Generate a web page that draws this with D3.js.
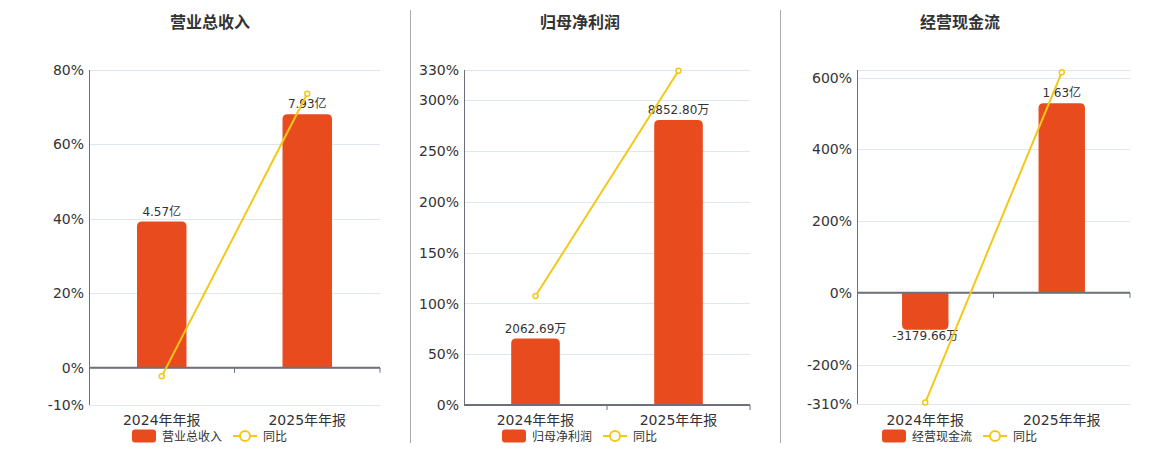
<!DOCTYPE html>
<html>
<head>
<meta charset="utf-8">
<script src="https://cdn.jsdelivr.net/npm/d3@7"></script>
<style>
  body { margin: 0; background: #fff; }
  text { font-family: "DejaVu Sans", "Noto Sans CJK SC", sans-serif; }
</style>
</head>
<body>
<script>
// data
var categories = ["2024年年报", "2025年年报"];

var revenue = [4.57, 7.93];               // 亿
var revenueLabels = ["4.57亿", "7.93亿"];
var revenueYoy = [-2.3, 73.6];            // %
var revenueTicks = [-10, 0, 20, 40, 60, 80];

var profit = [2062.69, 8852.80];          // 万
var profitLabels = ["2062.69万", "8852.80万"];
var profitYoy = [107.3, 329.2];
var profitTicks = [0, 50, 100, 150, 200, 250, 300, 330];

var cash = [-3179.66, 16300];             // 万
var cashLabels = ["-3179.66万", "1.63亿"];
var cashYoy = [-306, 615];
var cashTicks = [-310, -200, 0, 200, 400, 600];

var barColor = "#e84c1e";
var lineColor = "#f2c918";
var gridColor = "#e0e6f1";
var axisColor = "#6e7079";

var svg = d3.select("body").append("svg")
    .attr("width", 1160)
    .attr("height", 450);

//dividers between the three panels
[410.5, 780.5].forEach(function(x) {
    svg.append("line")
        .attr("x1", x).attr("x2", x).attr("y1", 10).attr("y2", 443)
        .attr("stroke", "#aaa").attr("stroke-width", 1);
});

function drawPanel(cfg) {
    var g = svg.append("g");

    var x = d3.scaleBand().domain(categories).range([cfg.x0, cfg.x1]);
    var y = d3.scaleLinear().domain(cfg.domain).range([cfg.y1, cfg.y0]);
    // hidden bar axis, shares zero with the percent axis
    var yb = d3.scaleLinear().domain([0, cfg.barTop]).range([y(0), cfg.y0]);

    //title
    g.append("text")
        .attr("x", cfg.cx).attr("y", 28)
        .attr("text-anchor", "middle")
        .attr("font-size", 16).attr("font-weight", "bold")
        .attr("fill", "#333")
        .text(cfg.title);

    //grid lines
    var gridVals = cfg.ticks.concat([cfg.domain[1]]);
    g.selectAll(".grid").data(gridVals).enter().append("line")
        .attr("x1", cfg.x0).attr("x2", cfg.x1)
        .attr("y1", function(d) { return Math.round(y(d)) + 0.5; })
        .attr("y2", function(d) { return Math.round(y(d)) + 0.5; })
        .attr("stroke", gridColor);

    //y tick labels
    g.selectAll(".tick").data(cfg.ticks).enter().append("text")
        .attr("x", cfg.x0 - 5)
        .attr("y", function(d) { return y(d); })
        .attr("dy", "0.36em")
        .attr("text-anchor", "end")
        .attr("font-size", 14)
        .attr("fill", "#333")
        .text(function(d) { return d + "%"; });

    //y axis line
    g.append("line")
        .attr("x1", cfg.x0 + 0.5).attr("x2", cfg.x0 + 0.5)
        .attr("y1", cfg.y0).attr("y2", cfg.y1)
        .attr("stroke", axisColor);

    //bars with rounded outer corners
    var bw = x.bandwidth() * 0.34;
    var r = 5;
    g.selectAll(".bar").data(cfg.bars).enter().append("path")
        .attr("fill", barColor)
        .attr("d", function(d, i) {
            var cx = x(categories[i]) + x.bandwidth() / 2;
            var l = cx - bw / 2, rr = cx + bw / 2;
            var y0 = yb(0), y1 = yb(d);
            var s = y1 < y0 ? 1 : -1;
            var p = d3.path();
            p.moveTo(l, y0);
            p.lineTo(l, y1 + s * r);
            p.quadraticCurveTo(l, y1, l + r, y1);
            p.lineTo(rr - r, y1);
            p.quadraticCurveTo(rr, y1, rr, y1 + s * r);
            p.lineTo(rr, y0);
            p.closePath();
            return p.toString();
        });

    //bar labels
    g.selectAll(".blabel").data(cfg.bars).enter().append("text")
        .attr("x", function(d, i) { return x(categories[i]) + x.bandwidth() / 2; })
        .attr("y", function(d) { return d >= 0 ? yb(d) - 6 : yb(d) + 10; })
        .attr("text-anchor", "middle")
        .attr("font-size", 12)
        .attr("fill", "#333")
        .text(function(d, i) { return cfg.labels[i]; });

    //zero line and x ticks
    g.append("line")
        .attr("x1", cfg.x0).attr("x2", cfg.x1)
        .attr("y1", y(0)).attr("y2", y(0))
        .attr("stroke", axisColor).attr("stroke-width", 2);
    var bounds = [cfg.x0 + x.bandwidth(), cfg.x1];
    g.selectAll(".xtick").data(bounds).enter().append("line")
        .attr("x1", function(d) { return d; }).attr("x2", function(d) { return d; })
        .attr("y1", y(0)).attr("y2", y(0) + 5)
        .attr("stroke", axisColor);

    //x labels
    g.selectAll(".xlabel").data(categories).enter().append("text")
        .attr("x", function(d) { return x(d) + x.bandwidth() / 2; })
        .attr("y", 425)
        .attr("text-anchor", "middle")
        .attr("font-size", 14)
        .attr("fill", "#333")
        .text(function(d) { return d; });

    //yoy line
    var line = d3.line()
        .x(function(d, i) { return x(categories[i]) + x.bandwidth() / 2; })
        .y(function(d) { return y(d); });
    g.append("path")
        .datum(cfg.yoy)
        .attr("d", line)
        .attr("fill", "none")
        .attr("stroke", lineColor).attr("stroke-width", 2);
    g.selectAll(".pt").data(cfg.yoy).enter().append("circle")
        .attr("cx", function(d, i) { return x(categories[i]) + x.bandwidth() / 2; })
        .attr("cy", function(d) { return y(d); })
        .attr("r", 2.5)
        .attr("fill", "#fff")
        .attr("stroke", lineColor).attr("stroke-width", 1.5);

    //legend
    var lx = cfg.cx - 78;
    g.append("rect")
        .attr("x", lx).attr("y", 429.5).attr("width", 24).attr("height", 13)
        .attr("rx", 3).attr("fill", barColor);
    g.append("text")
        .attr("x", lx + 30).attr("y", 440.5)
        .attr("font-size", 12).attr("fill", "#333")
        .text(cfg.title);
    g.append("line")
        .attr("x1", lx + 101).attr("x2", lx + 125)
        .attr("y1", 436).attr("y2", 436)
        .attr("stroke", lineColor).attr("stroke-width", 2);
    g.append("circle")
        .attr("cx", lx + 113).attr("cy", 436).attr("r", 5)
        .attr("fill", "#fff")
        .attr("stroke", lineColor).attr("stroke-width", 2);
    g.append("text")
        .attr("x", lx + 131).attr("y", 440.5)
        .attr("font-size", 12).attr("fill", "#333")
        .text("同比");
}

drawPanel({
    title: "营业总收入", cx: 210,
    x0: 89, x1: 380, y0: 70, y1: 405,
    domain: [-10, 80], ticks: revenueTicks,
    bars: revenue, labels: revenueLabels, yoy: revenueYoy, barTop: 9.31
});

drawPanel({
    title: "归母净利润", cx: 580,
    x0: 464, x1: 750, y0: 70, y1: 405,
    domain: [0, 330], ticks: profitTicks,
    bars: profit, labels: profitLabels, yoy: profitYoy, barTop: 10410
});

drawPanel({
    title: "经营现金流", cx: 960,
    x0: 857, x1: 1130, y0: 70, y1: 404,
    domain: [-310, 621.5], ticks: cashTicks,
    bars: cash, labels: cashLabels, yoy: cashYoy, barTop: 19165
});
</script>
</body>
</html>
